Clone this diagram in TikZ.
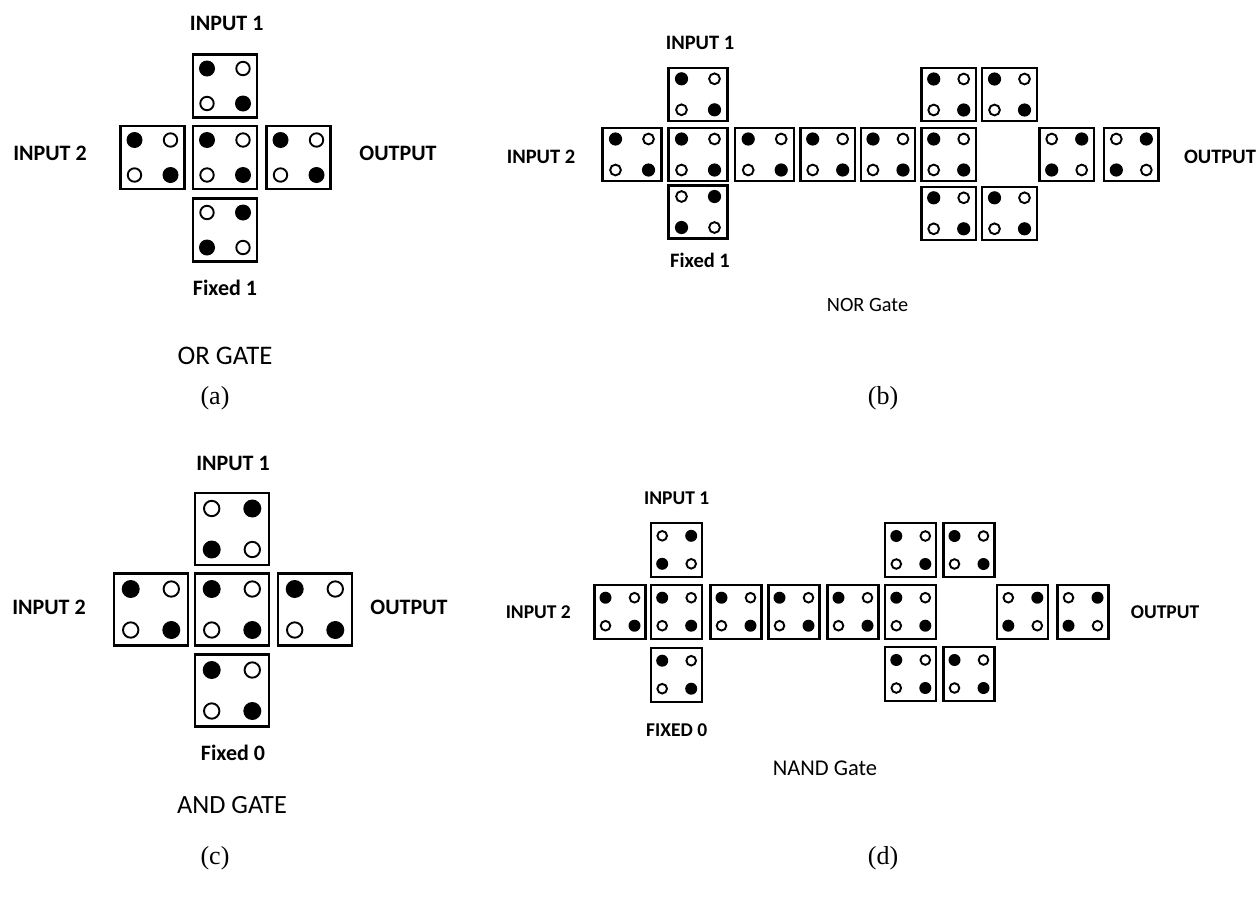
\documentclass[tikz,border=0pt]{standalone}
\usepackage{fontspec}
\setmainfont{Liberation Serif}
\newfontfamily\calibri{Carlito}
\usetikzlibrary{calc}

\tikzset{
  cellbox/.style={draw, line width=2.2pt, inner sep=0pt, minimum width=\cellw pt, minimum height=\cellh pt},
  hole/.style={line width=1.9pt},
  tag/.style={font=\calibri\bfseries\fontsize{#1}{#1}\selectfont},
  caption/.style={font=\calibri\fontsize{#1}{#1}\selectfont},
  sublabel/.style={font=\fontsize{26}{26}\selectfont}
}

% one cell: name, centre, 1 = black dots top left and bottom right, 0 = the other way
\newcommand{\dotcell}[3]{%
  \node[cellbox] (#1) at (#2) {};
  \ifnum#3=1
    \fill ($(#1)+(-\dotdx,-\dotdy)$) circle[radius=\dotr pt];
    \fill ($(#1)+(\dotdx,\dotdy)$) circle[radius=\dotr pt];
    \draw[hole] ($(#1)+(\dotdx,-\dotdy)$) circle[radius={0.96*\dotr pt-0.95pt}];
    \draw[hole] ($(#1)+(-\dotdx,\dotdy)$) circle[radius={0.96*\dotr pt-0.95pt}];
  \else
    \fill ($(#1)+(\dotdx,-\dotdy)$) circle[radius=\dotr pt];
    \fill ($(#1)+(-\dotdx,\dotdy)$) circle[radius=\dotr pt];
    \draw[hole] ($(#1)+(-\dotdx,-\dotdy)$) circle[radius={0.96*\dotr pt-0.95pt}];
    \draw[hole] ($(#1)+(\dotdx,\dotdy)$) circle[radius={0.96*\dotr pt-0.95pt}];
  \fi}

\begin{document}
\begin{tikzpicture}[x=1pt, y=-1pt]
  \useasboundingbox (0,0) rectangle (1259,905);

  % (a) OR gate
  \begin{scope}
    \def\cellw{64}\def\cellh{63}\def\dotdx{18}\def\dotdy{17.5}\def\dotr{8}
    \dotcell{a-top}{225,86}{1}
    \dotcell{a-left}{152.5,157.5}{1}
    \dotcell{a-mid}{225,157.5}{1}
    \dotcell{a-right}{298.5,157.5}{1}
    \dotcell{a-bot}{225,230}{0}
    \node[tag=22] (a-in1) at (226.7,23.3) {INPUT 1};
    \node[tag=22] (a-in2) at (50,153) {INPUT 2};
    \node[tag=22] (a-out) at (398,153) {OUTPUT};
    \node[tag=22] (a-fix) at (225,288) {Fixed 1};
    \node[caption=26.8] (a-name) at (225,356) {OR GATE};
    \node[sublabel] (a-sub) at (215,398) {(a)};
  \end{scope}

  % (b) NOR gate
  \begin{scope}
    \def\cellw{59}\def\cellh{53}\def\dotdx{16.5}\def\dotdy{15.5}\def\dotr{6.6}
    \dotcell{b-top}{698,94.3}{1}
    \dotcell{b-m0}{632,154.5}{1}
    \dotcell{b-m1}{698,154.5}{1}
    \dotcell{b-m2}{764.7,154.5}{1}
    \def\cellw{54.5}\def\dotdx{15}
    \dotcell{b-m3}{827.7,154.5}{1}
    \dotcell{b-m4}{888,154.5}{1}
    \dotcell{b-m5}{948.7,154.5}{1}
    \dotcell{b-m7}{1066.7,154.5}{0}
    \dotcell{b-m8}{1131.3,154.5}{0}
    \dotcell{b-up5}{948.7,94.5}{1}
    \dotcell{b-up6}{1009.5,94.5}{1}
    \dotcell{b-dn5}{948.7,213.3}{1}
    \dotcell{b-dn6}{1009.5,213.3}{1}
    \def\cellw{59}\def\dotdx{16.5}
    \dotcell{b-bot}{698,212}{0}
    \node[tag=20.5] (b-in1) at (700,43) {INPUT 1};
    \node[tag=20.5] (b-in2) at (541,157) {INPUT 2};
    \node[tag=20.5] (b-out) at (1220,157) {OUTPUT};
    \node[tag=20.5] (b-fix) at (700,260) {Fixed 1};
    \node[caption=20.3] (b-name) at (867.5,305) {NOR Gate};
    \node[sublabel] (b-sub) at (883,398) {(b)};
  \end{scope}

  % (c) AND gate
  \begin{scope}
    \def\cellw{74}\def\cellh{72}\def\dotdx{20.3}\def\dotdy{20.5}\def\dotr{9}
    \dotcell{c-top}{232,529}{0}
    \dotcell{c-left}{151,609.5}{1}
    \dotcell{c-mid}{232,609.5}{1}
    \dotcell{c-right}{315,609.5}{1}
    \dotcell{c-bot}{232,690.5}{1}
    \node[tag=22] (c-in1) at (233,463) {INPUT 1};
    \node[tag=22] (c-in2) at (49,607) {INPUT 2};
    \node[tag=22] (c-out) at (409,607) {OUTPUT};
    \node[tag=22] (c-fix) at (233,753) {Fixed 0};
    \node[caption=26.3] (c-name) at (232,805) {AND GATE};
    \node[sublabel] (c-sub) at (215,858) {(c)};
  \end{scope}

  % (d) NAND gate
  \begin{scope}
    \def\cellw{51}\def\cellh{54}\def\dotdx{14.5}\def\dotdy{14}\def\dotr{6}
    \dotcell{d-top}{676.7,549.8}{0}
    \dotcell{d-m0}{620,611.7}{1}
    \dotcell{d-m1}{676.7,611.7}{1}
    \dotcell{d-m2}{736,611.7}{1}
    \dotcell{d-m3}{794,611.7}{1}
    \dotcell{d-m4}{853,611.7}{1}
    \dotcell{d-m5}{910.8,611.7}{1}
    \dotcell{d-m7}{1022.8,611.7}{0}
    \dotcell{d-m8}{1083,611.7}{0}
    \dotcell{d-bot}{676.7,674.7}{1}
    \dotcell{d-up5}{910.8,550}{1}
    \dotcell{d-up6}{969,550}{1}
    \dotcell{d-dn5}{910.8,674}{1}
    \dotcell{d-dn6}{969,674}{1}
    \node[tag=19.5] (d-in1) at (676.7,498.3) {INPUT 1};
    \node[tag=19.5] (d-in2) at (538.3,611.7) {INPUT 2};
    \node[tag=19.5] (d-out) at (1165,611.7) {OUTPUT};
    \node[tag=19.5] (d-fix) at (676.7,730) {FIXED 0};
    \node[caption=22.5] (d-name) at (825,768) {NAND Gate};
    \node[sublabel] (d-sub) at (883,858) {(d)};
  \end{scope}
\end{tikzpicture}
\end{document}
